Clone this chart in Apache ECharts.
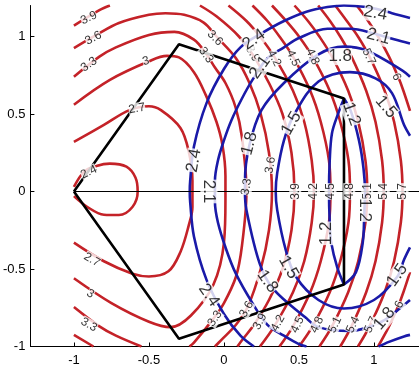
<!DOCTYPE html>
<html><head><meta charset="utf-8">
<script src="https://cdn.jsdelivr.net/npm/echarts@6/dist/echarts.min.js"></script>
<style>html,body{margin:0;padding:0;background:#fff}#c{width:419px;height:369px}</style>
</head><body><div id="c"></div>
<script>
const xTicks = [-1, -0.5, 0, 0.5, 1];
const yTicks = [-1, -0.5, 0, 0.5, 1];
const polygon = [[-1,0],[-0.3,0.95],[0.8,0.6],[0.8,-0.6],[-0.3,-0.95],[-1,0]];
const zeroLine = [[-1,0],[1.3,0]];

// red contour levels (segments of [x,y])
const red24 = [[[-1,0.03],[-0.93,0.13],[-0.85,0.165],[-0.76,0.18],[-0.65,0.16],[-0.59,0.09],[-0.575,0],[-0.61,-0.1],[-0.7,-0.152],[-0.8,-0.15],[-0.91,-0.1],[-1,-0.03]]];
const red27 = [[[-1,0.32],[-0.8,0.43],[-0.63,0.525],[-0.5,0.55],[-0.42,0.525],[-0.29,0.41],[-0.235,0.26],[-0.21,0.07],[-0.21,-0.1],[-0.235,-0.22],[-0.29,-0.39],[-0.37,-0.515],[-0.5,-0.548],[-0.61,-0.53],[-0.8,-0.45],[-1,-0.33]]];
const red30 = [[[-1,0.56],[-0.76,0.72],[-0.5,0.84],[-0.38,0.875],[-0.3,0.865],[-0.2,0.77],[-0.12,0.62],[-0.05,0.45],[-0.01,0.3],[0.01,0.1],[0.01,-0.05],[0,-0.33],[-0.07,-0.6],[-0.22,-0.8],[-0.355,-0.875],[-0.5,-0.84],[-0.75,-0.72],[-1,-0.56]]];
const red33 = [[[-1,0.74],[-0.83,0.87],[-0.72,0.93],[-0.5,1.01],[-0.33,1.03],[-0.2,0.98],[-0.12,0.89],[-0.06,0.8],[0.01,0.7],[0.077,0.545],[0.12,0.35],[0.15,0],[0.12,-0.35],[0.08,-0.55],[0,-0.72],[-0.07,-0.82],[-0.2,-0.975],[-0.23,-1]],[[-0.55,-1],[-0.72,-0.93],[-0.83,-0.87],[-1,-0.745]]];
const red36 = [[[-1,0.925],[-0.85,1.01],[-0.7,1.087],[-0.5,1.14],[-0.39,1.15],[-0.265,1.14],[-0.135,1.09],[-0.05,1.0],[0.08,0.86],[0.17,0.7],[0.245,0.5],[0.3,0.25],[0.32,0],[0.3,-0.25],[0.245,-0.5],[0.16,-0.74],[0.08,-0.86],[-0.02,-0.96],[-0.06,-1]],[[-0.87,-1],[-1,-0.925]]];
const red39 = [[[-1,1.07],[-0.83,1.17],[-0.76,1.2]],[[-0.16,1.2],[-0.05,1.13],[0.1,1.0],[0.2,0.87],[0.3,0.7],[0.39,0.5],[0.45,0.25],[0.47,0],[0.45,-0.25],[0.39,-0.5],[0.3,-0.7],[0.2,-0.86],[0.12,-0.96],[0.09,-1]]];
const red42 = [[[0.03,1.2],[0.15,1.1],[0.24,1.0],[0.335,0.87],[0.46,0.65],[0.535,0.45],[0.585,0.2],[0.6,0],[0.585,-0.2],[0.535,-0.45],[0.46,-0.65],[0.335,-0.87],[0.24,-1]]];
const red45 = [[[0.19,1.2],[0.29,1.1],[0.37,1.0],[0.46,0.87],[0.575,0.65],[0.645,0.45],[0.7,0.2],[0.71,0],[0.7,-0.2],[0.645,-0.45],[0.575,-0.65],[0.46,-0.87],[0.37,-1]]];
const red48 = [[[0.32,1.2],[0.415,1.1],[0.5,1.0],[0.59,0.87],[0.705,0.65],[0.775,0.45],[0.83,0.2],[0.84,0],[0.83,-0.2],[0.775,-0.45],[0.705,-0.65],[0.59,-0.87],[0.5,-1]]];
const red51 = [[[0.47,1.2],[0.56,1.1],[0.636,1.0],[0.72,0.87],[0.828,0.65],[0.895,0.45],[0.943,0.2],[0.955,0],[0.943,-0.2],[0.895,-0.45],[0.828,-0.65],[0.72,-0.87],[0.636,-1]]];
const red54 = [[[0.628,1.2],[0.707,1.1],[0.775,1.0],[0.85,0.87],[0.948,0.65],[1.01,0.45],[1.054,0.2],[1.065,0],[1.054,-0.2],[1.01,-0.45],[0.948,-0.65],[0.85,-0.87],[0.775,-1]]];
const red57 = [[[0.742,1.2],[0.819,1.1],[0.893,1.0],[0.97,0.87],[1.071,0.65],[1.134,0.45],[1.179,0.2],[1.19,0],[1.179,-0.2],[1.134,-0.45],[1.071,-0.65],[0.97,-0.87],[0.893,-1]]];
const red60 = [[[0.885,1.2],[0.961,1.1],[1.027,1.0],[1.1,0.87],[1.165,0.73],[1.196,0.65],[1.24,0.52]],[[1.24,-0.52],[1.196,-0.65],[1.165,-0.73],[1.1,-0.87],[1.027,-1]]];

// blue contour levels
const blue12 = [[[0.8,0.6],[0.76,0.5],[0.72,0.376],[0.705,0.2],[0.7,0],[0.705,-0.2],[0.715,-0.33],[0.755,-0.49],[0.8,-0.6]],[[0.8,0.6],[0.845,0.52],[0.9,0.33],[0.93,0.15],[0.94,0],[0.935,-0.15],[0.925,-0.33],[0.88,-0.52],[0.8,-0.6]]];
const blue15 = [[[1.24,0.36],[1.2,0.43],[1.12,0.635],[1.01,0.73],[0.84,0.77],[0.63,0.71],[0.47,0.5],[0.4,0.33],[0.355,0.12],[0.345,0],[0.355,-0.12],[0.41,-0.37],[0.48,-0.55],[0.63,-0.7],[0.8,-0.755],[1.0,-0.7],[1.155,-0.55],[1.2,-0.44],[1.24,-0.36]]];
const blue18 = [[[1.24,0.74],[1.19,0.78],[0.95,0.91],[0.8,0.935],[0.63,0.885],[0.4,0.7],[0.25,0.525],[0.17,0.3],[0.14,0.07],[0.14,0],[0.15,-0.12],[0.24,-0.47],[0.33,-0.63],[0.54,-0.81],[0.63,-0.875],[0.84,-0.9],[1.05,-0.84],[1.19,-0.74],[1.24,-0.7]]];
const blue21 = [[[1.24,0.955],[1.14,0.98],[1.0,1.02],[0.84,1.05],[0.69,1.05],[0.5,0.99],[0.4,0.93],[0.29,0.86],[0.19,0.72],[0.12,0.6],[0.05,0.46],[0.0,0.33],[-0.04,0.2],[-0.06,0.07],[-0.06,-0.07],[-0.04,-0.2],[0.01,-0.36],[0.077,-0.525],[0.19,-0.72],[0.29,-0.86],[0.4,-0.93],[0.5,-0.985],[0.55,-1]],[[1.03,-1],[1.1,-0.97],[1.2,-0.935],[1.24,-0.925]]];
const blue24 = [[[1.24,1.12],[1.12,1.15],[1.05,1.17],[0.95,1.19],[0.8,1.2],[0.69,1.19],[0.55,1.16],[0.4,1.1],[0.25,1.02],[0.11,0.93],[0.0,0.79],[-0.116,0.57],[-0.2,0.29],[-0.225,0.07],[-0.228,0],[-0.225,-0.07],[-0.2,-0.29],[-0.116,-0.57],[0.0,-0.79],[0.11,-0.93],[0.2,-1]]];

// contour labels [x, y, text]
const redLabels = [[-0.9,1.12,'3.9'],[-0.87,0.99,'3.6'],[-0.9,0.82,'3.3'],[-0.52,0.84,'3'],[-0.58,0.535,'2.7'],[-0.9,0.125,'2.4'],
  [-0.88,-0.44,'2.7'],[-0.89,-0.66,'3'],[-0.9,-0.86,'3.3'],
  [-0.06,0.99,'3.6'],[-0.12,0.88,'3.3'],[0.19,0.89,'3.9'],[0.335,0.86,'4.2'],[0.46,0.86,'4.5'],[0.59,0.87,'4.8'],[0.965,0.87,'5.7'],[1.15,0.74,'6'],
  [0.15,0.03,'3.3'],[0.31,0.17,'3.6'],[0.475,0,'3.9'],[0.6,0,'4.2'],[0.71,0,'4.5'],[0.835,0,'4.8'],[0.955,0,'5.1'],[1.065,0,'5.4'],[1.19,0,'5.7'],
  [-0.06,-0.82,'3.3'],[0.15,-0.76,'3.6'],[0.24,-0.84,'3.9'],[0.36,-0.85,'4.2'],[0.49,-0.86,'4.5'],[0.62,-0.86,'4.8'],[0.74,-0.86,'5.1'],[0.86,-0.86,'5.4'],[0.98,-0.86,'5.7'],[1.17,-0.73,'6']];
const redLabelAngles = [25,28,35,15,10,25, -30,-30,-30, -45,-55,-60,-62,-65,-65,-65,-65, 80,80,90,90,90,90,90,90,90, 55,60,62,62,65,65,65,65,65,65];
const blueLabels = [[-0.2,0.2,'2.4'],[0.2,0.98,'2.4'],[1.01,1.15,'2.4'],[-0.1,-0.67,'2.4'],
  [-0.1,0,'2.1'],[0.24,0.8,'2.1'],[1.03,1.0,'2.1'],
  [0.17,0.31,'1.8'],[0.775,0.87,'1.8'],[1.07,-0.82,'1.8'],[0.29,-0.58,'1.8'],
  [0.45,0.44,'1.5'],[1.08,0.545,'1.5'],[0.43,-0.49,'1.5'],[1.155,-0.54,'1.5'],
  [0.85,0.5,'1.2'],[0.68,-0.27,'1.2'],[0.935,-0.12,'1.2']];
const blueLabelAngles = [80,35,-10,-55, -90,55,-15, 75,0,50,-55, 60,-50,-60,55, -70,90,-90];

const RED = '#c42228', BLUE = '#1a1aa8';
const series = [];
function addLevel(segs, color) {
  segs.forEach(s => series.push({type:'line', data:s, smooth:0.35, symbol:'none', silent:true, animation:false,
    lineStyle:{color:color, width:2.6}, z:2}));
}
[red24,red27,red30,red33,red36,red39,red42,red45,red48,red51,red54,red57,red60].forEach(s => addLevel(s, RED));
[blue12,blue15,blue18,blue21,blue24].forEach(s => addLevel(s, BLUE));
series.push({type:'line', data:zeroLine, symbol:'none', silent:true, animation:false, lineStyle:{color:'#000', width:1}, z:3});
series.push({type:'line', data:polygon, symbol:'none', silent:true, animation:false, lineStyle:{color:'#000', width:2.6}, z:4});
function labelSeries(list, angles, size) {
  return {type:'scatter', symbolSize:0, silent:true, animation:false, z:6,
    data: list.map((d,i) => ({value:[d[0],d[1]], label:{show:true, position:'inside', formatter:d[2], rotate:angles[i],
      fontSize:size, fontFamily:'Liberation Sans', color:'#000', backgroundColor:'#fff', padding:0}}))};
}
series.push(labelSeries(redLabels, redLabelAngles, 12));
series.push(labelSeries(blueLabels, blueLabelAngles, 17));

const chart = echarts.init(document.getElementById('c'), null, {renderer:'canvas'});
chart.setOption({
  animation:false,
  backgroundColor:'#fff',
  grid:{left:28, top:5.5, width:401.45, height:341},
  xAxis:{type:'value', min:-1.29, max:1.3, splitLine:{show:false},
    axisLine:{show:true, onZero:false, lineStyle:{color:'#000', width:1}},
    axisTick:{show:true, inside:true, length:4, customValues:xTicks, lineStyle:{color:'#000'}},
    axisLabel:{customValues:xTicks, color:'#000', fontSize:13, fontFamily:'Liberation Sans', margin:7}},
  yAxis:{type:'value', min:-1, max:1.2, splitLine:{show:false},
    axisLine:{show:true, onZero:false, lineStyle:{color:'#000', width:1}},
    axisTick:{show:true, inside:true, length:4, customValues:yTicks, lineStyle:{color:'#000'}},
    axisLabel:{customValues:yTicks, color:'#000', fontSize:13, fontFamily:'Liberation Sans', margin:5}},
  series: series
});
</script></body></html>
